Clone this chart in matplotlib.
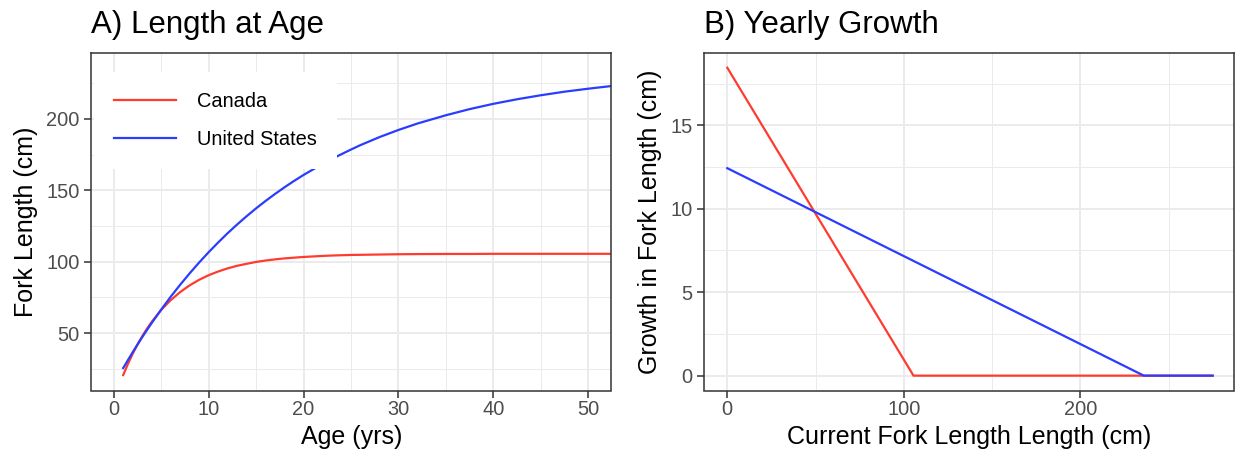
import matplotlib
matplotlib.use('Agg')
import matplotlib.pyplot as plt
from matplotlib.ticker import MultipleLocator

plt.rcParams['font.family'] = ['Liberation Sans', 'DejaVu Sans']

# ---- Panel A data: length at age ----
ages = [1, 1.5, 2, 2.5, 3, 3.5, 4, 5, 6, 7, 8, 9, 10, 11, 12, 13, 14, 15, 16, 17,
        18, 19, 20, 22, 23, 25, 26, 28, 30, 32, 35, 37.5, 40, 42.5, 45, 47.5, 50,
        52.5, 55, 60, 70, 80, 100]
len_canada = [20.6, 28.4, 35.5, 41.9, 47.7, 53.0, 57.8, 66.2, 73.0, 78.7, 83.4,
              87.3, 90.5, 93.1, 95.3, 97.1, 98.5, 99.8, 100.8, 101.6, 102.3, 102.8,
              103.3, 104.0, 104.3, 104.7, 104.8, 105.0, 105.2, 105.3, 105.4, 105.4,
              105.5, 105.5, 105.5, 105.5, 105.5, 105.5, 105.5, 105.5, 105.5, 105.5,
              105.5]
len_us = [25.5, 31.1, 36.6, 41.9, 47.1, 52.1, 57.0, 66.4, 75.4, 83.8, 91.8, 99.4,
          106.6, 113.4, 119.9, 126.0, 131.8, 137.3, 142.5, 147.4, 152.1, 156.5,
          160.7, 168.4, 172.0, 178.5, 181.6, 187.2, 192.2, 196.7, 202.5, 206.8,
          210.5, 213.7, 216.5, 219.0, 221.1, 223.0, 224.7, 227.3, 231.0, 233.1,
          235.0]

# ---- Panel B data: yearly growth vs current length ----
cur_len_canada = [0, 105.5, 275]
growth_canada = [18.45, 0, 0]
cur_len_us = [0, 236, 275]
growth_us = [12.43, 0, 0]

series_names = ['Canada', 'United States']
col_canada = '#FF3B2F'
col_us = '#2A3CFF'

W, H = 1238, 455
fig = plt.figure(figsize=(W / 100, H / 100), dpi=100)
fig.patch.set_facecolor('white')

top_px, bot_px = 52.7, 390.5
ax1 = fig.add_axes([91.4 / W, 1 - bot_px / H, (611 - 91.4) / W, (bot_px - top_px) / H])
ax2 = fig.add_axes([704.3 / W, 1 - bot_px / H, (1234 - 704.3) / W, (bot_px - top_px) / H])


def style(ax):
    ax.set_facecolor('white')
    for s in ax.spines.values():
        s.set_color('#333333')
        s.set_linewidth(1.1)
    ax.set_axisbelow(True)
    ax.grid(which='major', color='#EBEBEB', linewidth=1.4)
    ax.grid(which='minor', color='#EBEBEB', linewidth=0.7)
    ax.tick_params(which='major', direction='out', length=5, width=1.1,
                   color='#333333', labelcolor='#4D4D4D', labelsize=14.4)
    ax.tick_params(axis='y', which='major', pad=3.6)
    ax.tick_params(axis='x', which='major', pad=2)
    ax.tick_params(which='minor', length=0)


# Panel A
ax1.plot(ages, len_canada, color=col_canada, lw=1.6, label=series_names[0])
ax1.plot(ages, len_us, color=col_us, lw=1.6, label=series_names[1])
style(ax1)
ax1.set_xlim(-2.35, 52.4)
ax1.set_ylim(9.8, 246.3)
ax1.xaxis.set_major_locator(MultipleLocator(10))
ax1.xaxis.set_minor_locator(MultipleLocator(5))
ax1.yaxis.set_major_locator(MultipleLocator(50))
ax1.yaxis.set_minor_locator(MultipleLocator(25))
ax1.set_xlabel('Age (yrs)', fontsize=18, labelpad=4.5)
ax1.set_ylabel('Fork Length (cm)', fontsize=18, labelpad=6)
ax1.set_title('A) Length at Age', loc='left', fontsize=22.5, pad=14)
leg = ax1.legend(loc='upper left', bbox_to_anchor=(0.005, 0.944), borderaxespad=0,
                 frameon=True, fancybox=False, edgecolor='none', facecolor='white',
                 framealpha=1, fontsize=14.4, handlelength=3.1, handletextpad=1.07,
                 labelspacing=0.95, borderpad=1.0)
leg.get_frame().set_linewidth(0)

# Panel B
ax2.plot(cur_len_canada, growth_canada, color=col_canada, lw=1.6)
ax2.plot(cur_len_us, growth_us, color=col_us, lw=1.6)
style(ax2)
ax2.set_xlim(-13.03, 287.1)
ax2.set_ylim(-0.89, 19.35)
ax2.xaxis.set_major_locator(MultipleLocator(100))
ax2.xaxis.set_minor_locator(MultipleLocator(50))
ax2.yaxis.set_major_locator(MultipleLocator(5))
ax2.yaxis.set_minor_locator(MultipleLocator(2.5))
ax2.set_xlabel('Current Fork Length Length (cm)', fontsize=18, labelpad=4.5)
ax2.set_ylabel('Growth in Fork Length (cm)', fontsize=18, labelpad=6)
ax2.set_title('B) Yearly Growth', loc='left', fontsize=22.5, pad=14)

fig.savefig('out.png', dpi=100)
